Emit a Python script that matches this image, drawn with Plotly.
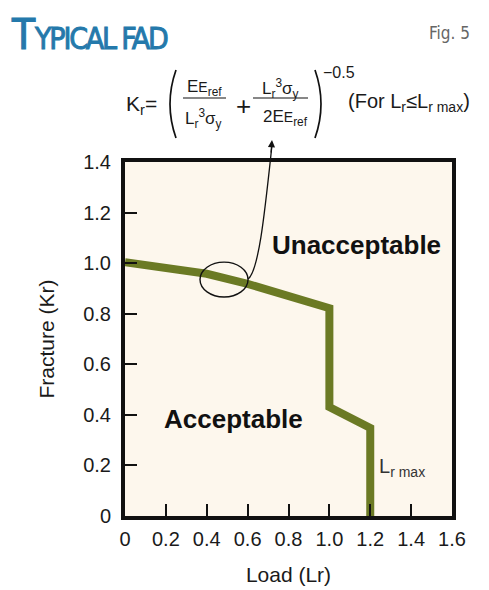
import plotly.graph_objects as go

# FAD curve
load_lr = [0, 0.2, 0.4, 0.6, 0.8, 0.9, 1.0, 1.0, 1.05, 1.1, 1.15, 1.2, 1.2]
fracture_kr = [1.004, 0.985, 0.958, 0.918, 0.868, 0.846, 0.822, 0.431, 0.408, 0.385, 0.362, 0.348, 0.0]

x_ticks = [0, 0.2, 0.4, 0.6, 0.8, 1.0, 1.2, 1.4, 1.6]
x_ticktext = ["0", "0.2", "0.4", "0.6", "0.8", "1.0", "1.2", "1.4", "1.6"]
y_ticks = [0, 0.2, 0.4, 0.6, 0.8, 1.0, 1.2, 1.4]
y_ticktext = ["0", "0.2", "0.4", "0.6", "0.8", "1.0", "1.2", "1.4"]

PAGE_W, PAGE_H = 489, 590
BODY = 8                                # default <body> margin of the html page
L, R, T, B = 125, 452, 162, 516         # plot area, page pixels
FONT = "Liberation Sans, Arial, sans-serif"
NARROW = "Liberation Sans Narrow, DejaVu Sans Condensed, Liberation Sans, sans-serif"
OLIVE = "#6b7a24"
INK = "#111111"


def px(x):
    return (x - L) / (R - L)


def py(y):
    return (B - y) / (B - T)


def note(text, x, y, size, xanchor="center", color="#1a1a1a", family=FONT,
         yanchor="middle"):
    return dict(text=text, x=px(x), y=py(y), xref="paper", yref="paper",
                xanchor=xanchor, yanchor=yanchor, showarrow=False,
                font=dict(size=size, color=color, family=family))


fig = go.Figure()
fig.add_trace(go.Scatter(x=load_lr, y=fracture_kr, mode="lines",
                         line=dict(color=OLIVE, width=8), showlegend=False,
                         hoverinfo="skip"))

BLUE = "#2479ab"
title_txt = (f"<span style='stroke:{BLUE};stroke-width:1.1px'>T</span>"
             f"<span style='font-size:30px;letter-spacing:-2.2px;"
             f"stroke:{BLUE};stroke-width:0.9px'>YPICAL FAD</span>")

ann = [
    # title + figure number
    note(title_txt, 9, BODY, 42, xanchor="left", color=BLUE, family=NARROW,
         yanchor="top"),
    note("Fig. 5", 449, 33, 17, color="#666666", family=NARROW),
    # formula
    note("K<sub>r</sub>=", 124, 105, 21, xanchor="left"),
    note("E<span style='font-size:14px'>E</span><sub>ref</sub>", 204, 88, 17),
    note("L<sub>r</sub><sup>3</sup>σ<sub>y</sub>", 203, 118, 17),
    note("+", 243, 106, 26),
    note("L<sub>r</sub><sup>3</sup>σ<sub>y</sub>", 280, 88, 17),
    note("2E<span style='font-size:14px'>E</span><sub>ref</sub>", 285, 118, 17),
    note("−0.5", 321, 72, 16, xanchor="left"),
    note("(For L<sub>r</sub>≤L<sub>r max</sub>)", 346, 103, 20, xanchor="left"),
    # region labels
    dict(text="<b>Unacceptable</b>", x=1.135, y=1.07, showarrow=False,
         font=dict(size=26, color=INK, family=FONT)),
    dict(text="<b>Acceptable</b>", x=0.533, y=0.384, showarrow=False,
         font=dict(size=26, color=INK, family=FONT)),
    dict(text="L<sub>r max</sub>", x=1.232, y=0.19, xanchor="left", showarrow=False,
         font=dict(size=20, color="#333333", family=FONT)),
    # arrow head at the formula
    dict(text="", x=px(272), y=py(140), xref="paper", yref="paper",
         ax=-1, ay=14, showarrow=True, arrowhead=2, arrowsize=1.1,
         arrowwidth=1.3, arrowcolor=INK),
]

shapes = [
    # fraction bars
    dict(type="line", xref="paper", yref="paper", x0=px(183), x1=px(226),
         y0=py(98), y1=py(98), line=dict(color=INK, width=1.2)),
    dict(type="line", xref="paper", yref="paper", x0=px(253), x1=px(308),
         y0=py(98), y1=py(98), line=dict(color=INK, width=1.2)),
    # big parentheses
    dict(type="path", xref="paper", yref="paper",
         path=f"M {px(176)} {py(70)} Q {px(164)} {py(104)} {px(176)} {py(138)}",
         line=dict(color=INK, width=1.7)),
    dict(type="path", xref="paper", yref="paper",
         path=f"M {px(315)} {py(70)} Q {px(327)} {py(104)} {px(315)} {py(138)}",
         line=dict(color=INK, width=1.7)),
    # ellipse marking the curve
    dict(type="circle", xref="x", yref="y", x0=0.367, x1=0.602, y0=0.866, y1=1.004,
         line=dict(color=INK, width=1.4)),
    # curved leader to the formula
    dict(type="path", xref="paper", yref="paper",
         path=f"M {px(248)} {py(279)} C {px(259)} {py(271)} {px(265)} {py(210)} {px(272)} {py(145)}",
         line=dict(color=INK, width=1.3)),
]

axis_common = dict(showgrid=False, zeroline=False, showline=True, linecolor=INK,
                   linewidth=4, mirror=True, ticks="inside", ticklen=12,
                   tickwidth=1.5, tickcolor=INK, automargin=False,
                   tickfont=dict(size=20, color="#1a1a1a", family=FONT),
                   fixedrange=True)

fig.update_layout(
    width=PAGE_W - BODY, height=PAGE_H - BODY,
    margin=dict(l=L - BODY, r=PAGE_W - R, t=T - BODY, b=PAGE_H - B, pad=0),
    paper_bgcolor="white", plot_bgcolor="#fdf7ed",
    font=dict(family=FONT),
    xaxis=dict(range=[0, 1.6], tickvals=x_ticks, ticktext=x_ticktext,
               ticklabelstandoff=2,
               title=dict(text="Load (Lr)", standoff=19,
                          font=dict(size=21, color="#1a1a1a")),
               **axis_common),
    yaxis=dict(range=[0, 1.4], tickvals=y_ticks, ticktext=y_ticktext,
               ticklabelstandoff=6,
               title=dict(text="Fracture (Kr)", standoff=24,
                          font=dict(size=21, color="#1a1a1a")),
               **axis_common),
    annotations=ann,
    shapes=shapes,
    showlegend=False,
)

fig.write_html("out.html")
